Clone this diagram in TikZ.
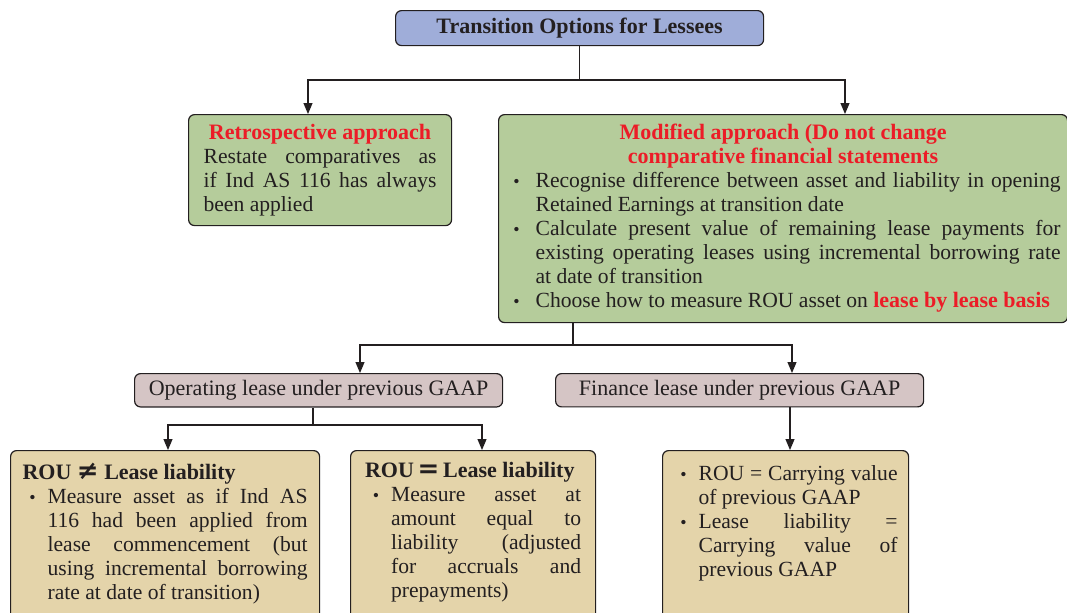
\documentclass[tikz,border=0pt]{standalone}
\usepackage{amsmath}
\usepackage{fontspec}
\setmainfont{Liberation Serif}
\newfontfamily\symfont{DejaVu Sans}
\usepackage{xcolor}
\usepackage{enumitem}
\usetikzlibrary{arrows.meta,positioning,calc}

\definecolor{titleblue}{HTML}{9FADD9}
\definecolor{apgreen}{HTML}{B5CC9B}
\definecolor{gaaprose}{HTML}{D5C5C5}
\definecolor{ruletan}{HTML}{E4D4AA}
\definecolor{headred}{HTML}{EC1C27}
\definecolor{inkgray}{HTML}{231F20}

\tikzstyle{box}  =[draw=inkgray, line width=0.6pt, rounded corners=3pt, anchor=north west]
\tikzstyle{line} =[draw=inkgray, line width=0.6pt]
\tikzstyle{arr}  =[line, -{Triangle[length=5.5pt,width=4.5pt]}]

\setlist[itemize]{nosep, leftmargin=12.5pt, labelsep=6pt, label={\small\textbullet}}

\newcommand{\bodyfont}{\fontsize{10.8}{12}\selectfont\hyphenpenalty=10000\tolerance=10000}
\newcommand{\headfont}{\fontsize{11}{12}\selectfont\bfseries}
\newcommand{\heavysym}[1]{{\symfont\bfseries\fontsize{13}{12}\selectfont #1}}

\begin{document}
\begin{tikzpicture}[x=0.5pt, y=-0.5pt,
    every node/.style={font=\bodyfont, text=inkgray}]
  \useasboundingbox (0,0) rectangle (1067,612);

  % blocks
  \node[box, fill=titleblue, minimum width=184pt, minimum height=17.5pt,
        font=\headfont] (title) at (395,10) {Transition Options for Lessees};

  \node[box, fill=apgreen, text width=116.5pt, minimum height=55.5pt, inner xsep=7.5pt,
        align=justify] (retro) at (188,114)
    {{\centering\color{headred}\headfont Retrospective approach\par}
     Restate comparatives as\linebreak if Ind AS 116 has always\linebreak been applied};

  \node[box, fill=apgreen, text width=277.5pt, minimum height=104pt, inner xsep=3.5pt,
        align=justify] (modif) at (498,114)
    {{\centering\color{headred}\headfont Modified approach (Do not change\\
       comparative financial statements\par}
     \begin{itemize}[leftmargin=15pt, labelsep=8pt]
       \item Recognise difference between asset and liability in opening\linebreak Retained Earnings at transition date
       \item Calculate present value of remaining lease payments for\linebreak existing operating leases using incremental borrowing rate\linebreak at date of transition
       \item Choose how to measure ROU asset on {\color{headred}\headfont lease by lease basis}
     \end{itemize}};

  \node[box, fill=gaaprose, minimum width=184pt, minimum height=15pt,
        font=\fontsize{11}{12}\selectfont] (oplease) at (134,373)
    {Operating lease under previous GAAP};
  \node[box, fill=gaaprose, minimum width=184pt, minimum height=15pt,
        font=\fontsize{11}{12}\selectfont] (finlease) at (555,373)
    {Finance lease under previous GAAP};

  \node[box, fill=ruletan, text width=142.5pt, inner xsep=6pt, inner ysep=6pt,
        align=justify] (notequal) at (10,450)
    {{\headfont ROU \heavysym{≠} Lease liability\par}
     \begin{itemize}
       \item Measure asset as if Ind AS\linebreak 116 had been applied from\linebreak lease commencement (but\linebreak using incremental borrowing\linebreak rate at date of transition)
     \end{itemize}
     \noindent\rule{0pt}{30pt}};

  \node[box, fill=ruletan, text width=108pt, inner xsep=7.25pt, inner ysep=6pt,
        align=justify] (equal) at (350,450)
    {{\headfont ROU\,\heavysym{=}\,Lease liability\par}
     \begin{itemize}[leftmargin=13pt]
       \item Measure asset at\linebreak amount equal to\linebreak liability (adjusted\linebreak for accruals and\linebreak prepayments)
     \end{itemize}
     \noindent\rule{0pt}{30pt}};

  \node[box, fill=ruletan, text width=112pt, inner xsep=5.5pt, inner ysep=3pt,
        align=justify] (carry) at (662,450)
    {\begin{itemize}
       \item ROU = Carrying value\linebreak of previous GAAP
       \item Lease liability =\linebreak Carrying value of\linebreak previous GAAP
     \end{itemize}
     \noindent\rule{0pt}{45pt}};

  % top branches
  \coordinate (hub1) at (title.south |- 0,80);
  \draw[line] (title.south) -- (hub1);
  \draw[arr] (hub1) -| (retro.north -| 308,0);
  \draw[arr] (hub1) -| (modif.north -| 845,0);

  % lease type branches
  \coordinate (hub2) at (573,345);
  \draw[line] (modif.south -| hub2) -- (hub2);
  \draw[arr] (hub2) -| (oplease.north -| 360,0);
  \draw[arr] (hub2) -| (finlease.north -| 792,0);

  % operating lease cases
  \coordinate (hub3) at (313,425);
  \draw[line] (oplease.south -| hub3) -- (hub3);
  \draw[arr] (hub3) -| (notequal.north -| 168,0);
  \draw[arr] (hub3) -| (equal.north -| 482,0);

  % finance lease case
  \draw[arr] (finlease.south -| 790,0) -- (carry.north -| 790,0);

\end{tikzpicture}
\end{document}
